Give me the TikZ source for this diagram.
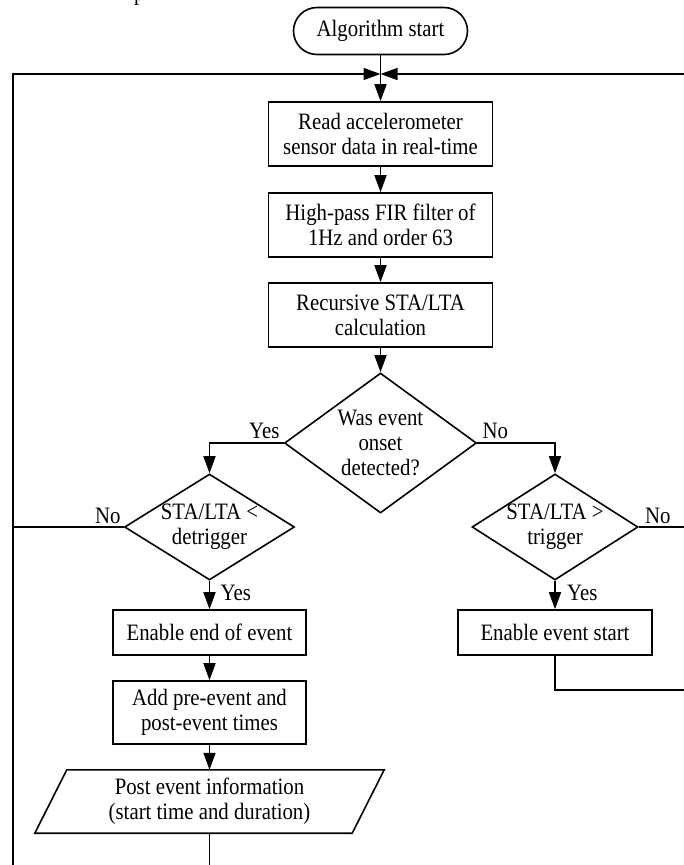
\documentclass[tikz,border=0pt]{standalone}
\usepackage{fontspec}
\setmainfont[FakeStretch=0.885]{Liberation Serif}
\usetikzlibrary{shapes.geometric, arrows.meta, calc}

\begin{document}
\begin{tikzpicture}[x=1pt, y=-1pt,
  font=\fontsize{23.5}{25}\selectfont,
  flow/.style={line width=1.6pt},
  arr/.style={flow, -{Triangle[length=17pt, width=12pt]}},
  process/.style={draw, line width=1.6pt, rectangle, align=center, inner sep=0pt,
    minimum width=224pt, minimum height=64pt},
  terminal/.style={draw, line width=1.6pt, rectangle, rounded corners=23.5pt,
    inner sep=0pt, minimum width=174pt, minimum height=47pt},
  decision/.style={draw, line width=1.6pt, diamond, inner sep=0pt},
  dtext/.style={align=center, inner sep=0pt},
  iotext/.style={align=center, inner sep=0pt, minimum width=317pt, minimum height=63pt},
  lbl/.style={inner sep=0pt}
]
\useasboundingbox (0,0) rectangle (684,865);

% tail of the line above, cut by the page edge
\node[lbl, anchor=base west] (frag) at (134,0) {p};

% main column
\node[terminal] (start) at (380.5,31) {Algorithm start};
\coordinate (j) at (380.5,74);
\node[process] (read)   at (380.5,134) {Read accelerometer\\sensor data in real-time};
\node[process] (filter) at (380.5,225) {High-pass FIR filter of\\1Hz and order 63};
\node[process] (stalta) at (380.5,315) {Recursive STA/LTA\\calculation};

% decisions
\node[decision, minimum width=192pt, minimum height=140pt] (d1) at (380.5,443) {};
\node[dtext] at (d1) {Was event\\onset\\detected?};
\node[decision, minimum width=170pt, minimum height=106pt] (d2) at (209.5,527) {};
\node[dtext] at (d2) {STA/LTA <\\detrigger};
\node[decision, minimum width=166pt, minimum height=106pt] (d3) at (555,527) {};
\node[dtext] at (d3) {STA/LTA >\\trigger};

% left branch
\node[process, minimum width=193pt, minimum height=45pt] (endev) at (209.5,632.5) {Enable end of event};
\node[process, minimum width=193pt, minimum height=63pt] (addt) at (209.5,712.5) {Add pre-event and\\post-event times};
\node[iotext] (post) at (209.5,801.5) {Post event information\\(start time and duration)};
\draw[flow] ([xshift=16pt]post.north west) -- ([xshift=16pt]post.north east)
  -- ([xshift=-16pt]post.south east) -- ([xshift=-16pt]post.south west) -- cycle;

% right branch
\node[process, minimum width=194pt, minimum height=45pt] (startev) at (555,632.5) {Enable event start};

% connectors of the main column
\draw[flow] (start.south) -- (j);
\draw[arr] (j) -- (read.north);
\draw[arr] (read.south) -- (filter.north);
\draw[arr] (filter.south) -- (stalta.north);
\draw[arr] (stalta.south) -- (d1.north);

% decision branches
\draw[arr] (d1.west) -| (d2.north);
\draw[arr] (d1.east) -| (d3.north);
\draw[arr] (d2.south) -- (endev.north);
\draw[arr] (d3.south) -- (startev.north);
\draw[arr] (endev.south) -- (addt.north);
\draw[arr] (addt.south) -- (post.north);

% loops back to the reading step
\coordinate (lowL) at (13,880);
\coordinate (farR) at (700,74);
\draw[arr] (post.south) |- (lowL) |- (j);
\draw[flow] (d2.west) -- (d2.west -| lowL);
\draw[arr] (farR) -- (j);
\draw[flow] (d3.east) -- (d3.east -| farR);
\draw[flow] (startev.south) |- ($(farR)+(0,616)$);

% branch labels
\node[lbl, anchor=base east] at ($(d1.west)+(-4,-5)$) {Yes};
\node[lbl, anchor=base west] at ($(d1.east)+(5,-5)$) {No};
\node[lbl, anchor=base east] at ($(d2.west)+(-3,-4)$) {No};
\node[lbl, anchor=base west] at ($(d3.east)+(6,-4)$) {No};
\node[lbl, anchor=base west] at ($(d2.south)+(11,20)$) {Yes};
\node[lbl, anchor=base west] at ($(d3.south)+(12,20)$) {Yes};
\end{tikzpicture}
\end{document}
